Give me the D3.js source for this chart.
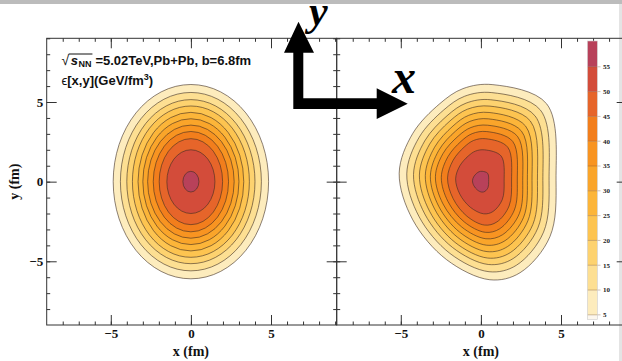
<!DOCTYPE html>
<html lang="en">
<head>
<meta charset="UTF-8">
<title>Energy density in the transverse plane</title>
<script src="https://cdn.jsdelivr.net/npm/d3@7"></script>
<style>
  body { margin: 0; background: #fff; }
  svg { display: block; }
  .axis .domain { display: none; }
  .axis line { stroke: #333; }
  .axis text { font-family: "Liberation Serif", "Times New Roman", serif; font-weight: bold; font-size: 13px; fill: #111; }
  .lab { font-family: "Liberation Serif", "Times New Roman", serif; font-weight: bold; font-size: 14px; fill: #111; }
  .note { font-family: "Liberation Sans", Arial, sans-serif; font-weight: bold; font-size: 13px; fill: #111; }
</style>
</head>
<body>
<svg width="622" height="361"></svg>
<script>
// contour levels (GeV/fm^3) and the colour of the band above each level
const levels = [5, 10, 15, 20, 25, 30, 35, 40, 45, 50, 55];
const bandColors = ["#fdecbd", "#fddf92", "#fdd26f", "#fdc450", "#fcb539", "#faa52a",
                    "#f89421", "#f27e1c", "#e6652a", "#d34c3a", "#b8415a"];
const belowColor = "#fcf7ee";
const zMin = 4.1, zMax = 60.2;

// left panel: contour half-widths (fm)
const leftRx = [4.85, 4.4, 4.0, 3.65, 3.3, 3.0, 2.7, 2.35, 1.98, 1.5, 0.5];
const leftRy = [6.1, 5.6, 5.15, 4.75, 4.35, 3.95, 3.55, 3.15, 2.7, 2.0, 0.65];

// right panel: outermost contour (fm), inner ones shrink like the left panel
const rightOutline = [
  [0.75, 6.09], [4.1, 4.89], [4.69, 0.09], [4.31, -3.45], [2.44, -5.72], [0.56, -6.16],
  [-2.14, -4.9], [-4.25, -2.4], [-5.1, 0.53], [-4.25, 3.03], [-2.56, 4.9], [-1.12, 5.84]
];

const majorTicks = [-5, 0, 5];
const minorTicks = d3.range(-8, 10);

const svg = d3.select("svg");

// screenshot edges
svg.append("rect").attr("x", 0).attr("y", 0).attr("width", 622).attr("height", 4).attr("fill", "#bcbcbc");
svg.append("rect").attr("x", 619).attr("y", 4).attr("width", 3).attr("height", 357).attr("fill", "#e4e4e4");

const y = d3.scaleLinear().domain([-9, 9]).range([325, 38.3]);
const xL = d3.scaleLinear().domain([-9, 9.1]).range([46.7, 336.7]);
const xR = d3.scaleLinear().domain([-9, 9.1]).range([336.7, 626.7]);

function panel(xs, withYLabels) {
  const g = svg.append("g");
  const [x0, x1] = xs.range();
  const [y0, y1] = y.range();

  g.append("g").attr("class", "axis").attr("transform", `translate(0,${y0})`)
    .call(d3.axisBottom(xs).tickValues(majorTicks).tickSize(-10).tickPadding(4).tickFormat(d3.format("d")));
  g.append("g").attr("class", "axis").attr("transform", `translate(0,${y0})`)
    .call(d3.axisBottom(xs).tickValues(minorTicks).tickSize(-3.5).tickFormat(""));
  g.append("g").attr("class", "axis").attr("transform", `translate(0,${y1})`)
    .call(d3.axisTop(xs).tickValues(majorTicks).tickSize(-10).tickFormat(""));
  g.append("g").attr("class", "axis").attr("transform", `translate(0,${y1})`)
    .call(d3.axisTop(xs).tickValues(minorTicks).tickSize(-3.5).tickFormat(""));

  g.append("g").attr("class", "axis").attr("transform", `translate(${x0},0)`)
    .call(d3.axisLeft(y).tickValues(majorTicks).tickSize(-10).tickPadding(3.5)
      .tickFormat(withYLabels ? d3.format("d") : ""));
  g.append("g").attr("class", "axis").attr("transform", `translate(${x0},0)`)
    .call(d3.axisLeft(y).tickValues(minorTicks).tickSize(-3.5).tickFormat(""));
  g.append("g").attr("class", "axis").attr("transform", `translate(${x1},0)`)
    .call(d3.axisRight(y).tickValues(majorTicks).tickSize(-10).tickFormat(""));
  g.append("g").attr("class", "axis").attr("transform", `translate(${x1},0)`)
    .call(d3.axisRight(y).tickValues(minorTicks).tickSize(-3.5).tickFormat(""));

  g.append("rect").attr("x", x0).attr("y", y1).attr("width", x1 - x0).attr("height", y0 - y1)
    .attr("fill", "none").attr("stroke", "#333").attr("stroke-width", 1);

  g.append("text").attr("class", "lab").attr("x", xs(0)).attr("y", 356)
    .attr("text-anchor", "middle").text("x (fm)");
  return g;
}

// contours drawn first so the frame sits on top
const cl = svg.append("g");
cl.selectAll("ellipse").data(levels).join("ellipse")
  .attr("cx", xL(0)).attr("cy", y(0))
  .attr("rx", (d, i) => xL(leftRx[i]) - xL(0))
  .attr("ry", (d, i) => y(0) - y(leftRy[i]))
  .attr("fill", (d, i) => bandColors[i])
  .attr("stroke", "#3d2c22").attr("stroke-opacity", 0.85).attr("stroke-width", 0.7);

const cr = svg.append("g");
const outline = d3.line().curve(d3.curveCatmullRomClosed.alpha(0.5));
cr.selectAll("path").data(levels).join("path")
  .attr("d", (d, i) => {
    const fx = leftRx[i] / leftRx[0], fy = leftRy[i] / leftRy[0];
    return outline(rightOutline.map(p => [xR(p[0] * fx), y(p[1] * fy)]));
  })
  .attr("fill", (d, i) => bandColors[i])
  .attr("stroke", "#3d2c22").attr("stroke-opacity", 0.85).attr("stroke-width", 0.7);

panel(xL, true);
panel(xR, false);

svg.append("text").attr("class", "lab")
  .attr("transform", `translate(19,${y(0)}) rotate(-90)`)
  .attr("text-anchor", "middle").text("y (fm)");

// colour bar
const cz = d3.scaleLinear().domain([zMin, zMax]).range([319.3, 41]);
const bounds = [zMin, ...levels, zMax];
const barColors = [belowColor, ...bandColors];
const cb = svg.append("g");
cb.selectAll("rect").data(barColors).join("rect")
  .attr("x", 587.5).attr("width", 9.8)
  .attr("y", (d, i) => cz(bounds[i + 1]))
  .attr("height", (d, i) => cz(bounds[i]) - cz(bounds[i + 1]))
  .attr("fill", d => d);
cb.selectAll("line").data(levels).join("line")
  .attr("x1", 587.5).attr("x2", 600.5)
  .attr("y1", d => cz(d)).attr("y2", d => cz(d))
  .attr("stroke", "#7a5030").attr("stroke-opacity", 0.45).attr("stroke-width", 0.8);
cb.append("rect").attr("x", 587.5).attr("y", cz(zMax)).attr("width", 9.8)
  .attr("height", cz(zMin) - cz(zMax)).attr("fill", "none").attr("stroke", "#ccc").attr("stroke-width", 0.6);
cb.selectAll("text").data(levels).join("text")
  .attr("x", 603).attr("y", d => cz(d)).attr("dy", "0.35em")
  .attr("font-family", "Liberation Serif, serif").attr("font-weight", "bold")
  .attr("font-size", 7).attr("fill", "#222").text(d => d);

// annotation
const note = svg.append("g").attr("class", "note");
const rad = note.append("text").attr("x", 61.5).attr("y", 65).attr("font-weight", "normal").attr("font-size", 14).text("\u221A");
const rw = rad.node().getComputedTextLength();
const s = note.append("text").attr("x", 61.5 + rw + 1.5).attr("y", 65).attr("font-style", "italic").text("s");
const sw = s.node().getComputedTextLength();
const nn = note.append("text").attr("x", 61.5 + rw + 1.5 + sw + 0.5).attr("y", 67).attr("font-size", 9).text("NN");
const nw = nn.node().getComputedTextLength();
const endBar = 61.5 + rw + 1.5 + sw + 0.5 + nw + 1;
svg.append("line").attr("x1", 61.5 + rw - 0.5).attr("x2", endBar).attr("y1", 54).attr("y2", 54)
  .attr("stroke", "#111").attr("stroke-width", 1);
note.append("text").attr("x", endBar + 3).attr("y", 65).text("=5.02TeV,Pb+Pb, b=6.8fm");

const l2 = note.append("text").attr("x", 61.5).attr("y", 85);
l2.append("tspan").attr("font-weight", "normal").text("\u03F5");
l2.append("tspan").text("[x,y](GeV/fm");
l2.append("tspan").attr("font-size", 9).attr("dy", -5).text("3");
l2.append("tspan").attr("dy", 5).text(")");

// axes sketch in the upper middle
svg.append("path")
  .attr("d", "M293.3,109 L293.3,52.7 L284,52.7 L298.5,21.7 L314,52.7 L303.3,52.7 L303.3,98.3 " +
             "L376.7,98.3 L376.7,88.3 L407.7,103.7 L376.7,119 L376.7,109 Z")
  .attr("fill", "#000");
svg.append("text").attr("x", 309).attr("y", 25)
  .attr("font-family", "Liberation Serif, serif").attr("font-style", "italic").attr("font-weight", "bold")
  .attr("font-size", 42).text("y");
svg.append("text").attr("x", 392).attr("y", 93)
  .attr("font-family", "Liberation Serif, serif").attr("font-style", "italic").attr("font-weight", "bold")
  .attr("font-size", 48).text("x");
</script>
</body>
</html>
